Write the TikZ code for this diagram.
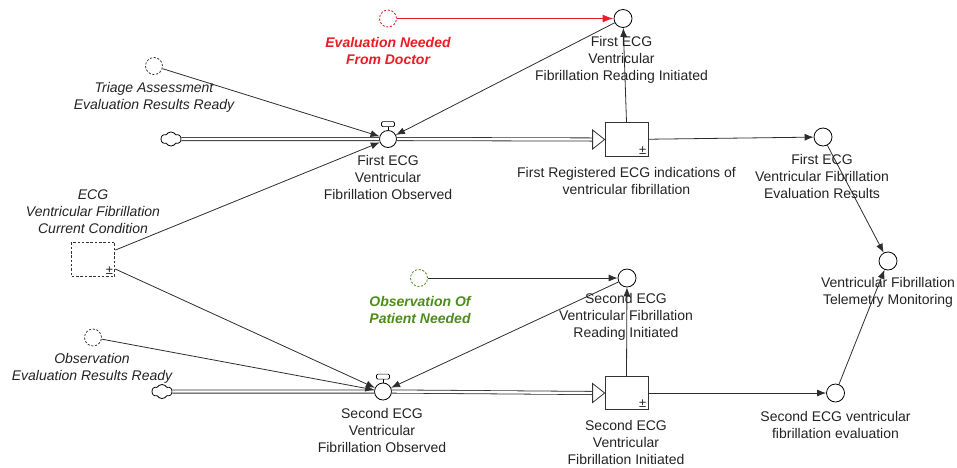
\documentclass[tikz,border=0pt]{standalone}
\usepackage{fontspec}
\setmainfont{Liberation Sans}
\usetikzlibrary{arrows.meta,shapes.symbols,calc}
\definecolor{linkgray}{RGB}{45,45,45}
\definecolor{txtgray}{RGB}{35,35,35}
\definecolor{ghostgray}{RGB}{60,60,60}
\definecolor{warnred}{RGB}{232,28,36}
\definecolor{obsgreen}{RGB}{78,140,28}
\begin{document}
\begin{tikzpicture}[x=1pt,y=-1pt,
  aux/.style={circle,draw=black,fill=white,minimum size=18pt,inner sep=0pt,line width=0.8pt},
  ghost/.style={circle,draw=ghostgray,dash pattern=on 2.2pt off 1.6pt,minimum size=17pt,inner sep=0pt,line width=0.8pt},
  valve/.style={circle,draw=black,fill=white,minimum size=17pt,inner sep=0pt,line width=0.8pt},
  stockbox/.style={draw=black!80,fill=white,minimum width=43pt,minimum height=34pt,inner sep=0pt,line width=0.8pt},
  source/.style={cloud,cloud puffs=6,cloud puff arc=120,aspect=1.4,draw=black,fill=white,
    minimum width=20pt,minimum height=14pt,inner sep=0pt,line width=0.8pt},
  lbl/.style={align=center,font=\fontsize{14}{17}\selectfont,text=txtgray,inner sep=0pt},
  ilbl/.style={lbl,font=\fontsize{14}{17}\selectfont\itshape},
  pm/.style={font=\fontsize{13}{13}\selectfont,text=txtgray,anchor=south east,inner sep=2pt},
  link/.style={draw=linkgray,line width=0.8pt,-{Latex[length=9pt,width=7pt]}},
  pipe/.style={draw=black!80,double=white,double distance=2.4pt,line width=0.8pt},
  pipetip/.style={draw=black!80,fill=white,line width=0.8pt,line join=miter},
  handle/.style={draw=black,fill=white,line width=0.7pt}
]
\useasboundingbox (0,0) rectangle (957,467);

% ---- upper flow chain ----
\node[source] (cloud1) at (171,139) {};
\node[valve] (valve1) at (388,139) {};
\node[stockbox] (stock1) at (626.5,139.5) {};
\node[pm] at (stock1.south east) {±};

\node[aux] (rd1) at (623,18.5) {};
\node[ghost,draw=warnred] (doc) at (388,18.5) {};
\node[ghost] (triage) at (154,66) {};
\node[aux] (fe1) at (823,137) {};
\node[aux] (tele) at (888,261) {};

% ---- lower flow chain ----
\node[source] (cloud2) at (162,391.5) {};
\node[valve] (valve2) at (383,391.5) {};
\node[stockbox,minimum height=33pt] (stock2) at (626.5,393) {};
\node[pm] at (stock2.south east) {±};

\node[aux] (rd2) at (627,278) {};
\node[ghost,draw=obsgreen] (patient) at (419,278) {};
\node[ghost] (obsready) at (93,337.5) {};
\node[aux] (se) at (835.5,393) {};

% ---- current condition (dashed stock) ----
\node[stockbox,dash pattern=on 2.5pt off 1.8pt,minimum width=43pt] (ecg) at (93.3,259) {};
\node[pm] at (ecg.south east) {±};

% ---- pipes ----
\draw[pipe] (cloud1.east) -- (valve1.west);
\coordinate (tip1) at ($(stock1.west)+(-12,0)$);
\draw[pipe] (valve1.east) -- (tip1);
\draw[pipetip] ($(tip1)+(0,-9.5)$) -- (stock1.west) -- ($(tip1)+(0,9.5)$) -- cycle;

\draw[pipe] (cloud2.east) -- (valve2.west);
\coordinate (tip2) at ($(stock2.west)+(-12,0)$);
\draw[pipe] (valve2.east) -- (tip2);
\draw[pipetip] ($(tip2)+(0,-9.5)$) -- (stock2.west) -- ($(tip2)+(0,9.5)$) -- cycle;

% valve handles: stem and bar
\foreach \v in {valve1,valve2} {
  \draw[handle] (\v.north) -- ++(0,-3.5);
  \draw[handle,rounded corners=1.2pt] ($(\v.north)+(-6.5,-3.5)$) rectangle ($(\v.north)+(6.5,-8.5)$);
}

% ---- links ----
\draw[link,draw=warnred,line width=1.6pt,-{Latex[length=11pt,width=8pt]}] (doc) -- (rd1);
\draw[link] (triage) -- (valve1);
\draw[link] (rd1) -- (valve1);
\draw[link] (ecg) -- (valve1);
\draw[link] (stock1.north) -- (rd1);
\draw[link] (stock1) -- (fe1);
\draw[link] (fe1) -- (tele);

\draw[link] (patient) -- (rd2);
\draw[link] (rd2) -- (valve2);
\draw[link] (ecg) -- (valve2);
\draw[link] (obsready) -- (valve2);
\draw[link] (stock2.north) -- (rd2);
\draw[link] (stock2) -- (se);
\draw[link] (se) -- (tele);

% ---- labels ----
\node[lbl,text=warnred,font=\fontsize{14}{17}\selectfont\bfseries\itshape] (docl) at (388,50.5) {Evaluation Needed\\From Doctor};
\node[ilbl] (triagel) at (154,97) {Triage Assessment\\Evaluation Results Ready};
\node[lbl] (rd1l) at (621.5,60) {First ECG\\Ventricular\\Fibrillation Reading Initiated};
\node[lbl] (valve1l) at (388,177) {First ECG\\Ventricular\\Fibrillation Observed};
\node[lbl] (stock1l) at (626.5,181) {First Registered ECG indications of\\ventricular fibrillation};
\node[lbl] (fe1l) at (822,176.5) {First ECG\\Ventricular Fibrillation\\Evaluation Results};
\node[lbl] (telel) at (888,292) {Ventricular Fibrillation\\Telemetry Monitoring};
\node[ilbl] (ecgl) at (93,211.5) {ECG\\Ventricular Fibrillation\\Current Condition};
\node[lbl,text=obsgreen,font=\fontsize{14}{17}\selectfont\bfseries\itshape] (patientl) at (420,310) {Observation Of\\Patient Needed};
\node[lbl] (rd2l) at (626,317.3) {Second ECG\\Ventricular Fibrillation\\Reading Initiated};
\node[ilbl] (obsreadyl) at (92,368.5) {Observation\\Evaluation Results Ready};
\node[lbl] (valve2l) at (382,430.5) {Second ECG\\Ventricular\\Fibrillation Observed};
\node[lbl] (stock2l) at (626,442) {Second ECG\\Ventricular\\Fibrillation Initiated};
\node[lbl] (sel) at (835.5,424.7) {Second ECG ventricular\\fibrillation evaluation};
\end{tikzpicture}
\end{document}
